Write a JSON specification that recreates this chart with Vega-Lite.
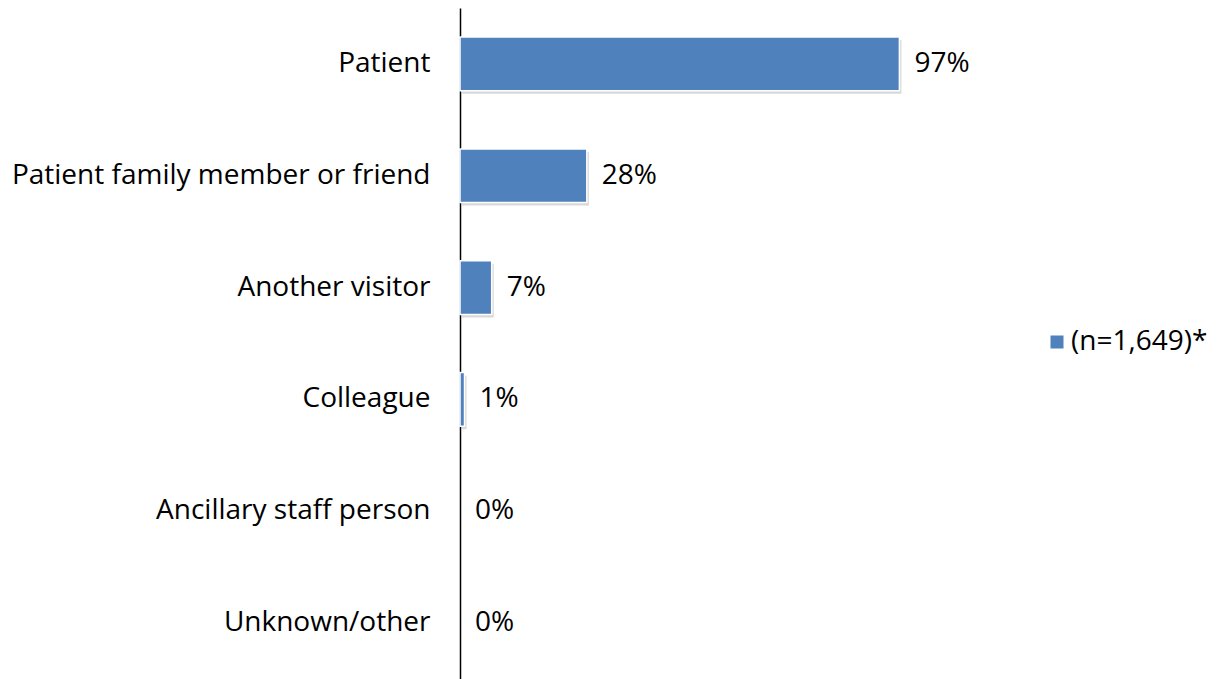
{
  "$schema": "https://vega.github.io/schema/vega-lite/v6.json",
  "autosize": "none",
  "width": 453,
  "height": 671,
  "padding": {"left": 460, "top": 8, "right": 308, "bottom": 0},
  "background": "white",
  "config": {
    "font": "Open Sans",
    "view": {"stroke": null}
  },
  "data": {
    "values": [
      {"category": "Patient", "value": 0.97, "series": "(n=1,649)*"},
      {"category": "Patient family member or friend", "value": 0.28, "series": "(n=1,649)*"},
      {"category": "Another visitor", "value": 0.07, "series": "(n=1,649)*"},
      {"category": "Colleague", "value": 0.01, "series": "(n=1,649)*"},
      {"category": "Ancillary staff person", "value": 0.0, "series": "(n=1,649)*"},
      {"category": "Unknown/other", "value": 0.0, "series": "(n=1,649)*"}
    ]
  },
  "encoding": {
    "y": {
      "field": "category", "type": "nominal", "sort": null, "title": null,
      "scale": {"paddingInner": 0.52, "paddingOuter": 0.26},
      "axis": {
        "domainColor": "black", "domainWidth": 1.5, "ticks": false,
        "labelFontSize": 28, "labelColor": "black", "labelPadding": 30,
        "labelFont": "Open Sans", "labelLimit": 500
      }
    },
    "x": {
      "field": "value", "type": "quantitative", "title": null,
      "scale": {"domain": [0, 1]},
      "axis": null
    }
  },
  "layer": [
    {
      "transform": [{"filter": "datum.value > 0"}],
      "mark": {"type": "bar", "color": "#c8c8c8", "opacity": 0.7, "xOffset": 2, "yOffset": 3}
    },
    {
      "transform": [{"filter": "datum.value > 0"}],
      "mark": {"type": "bar", "stroke": "white", "strokeWidth": 1.5},
      "encoding": {
        "color": {
          "field": "series", "type": "nominal",
          "scale": {"range": ["#4F81BD"]},
          "legend": {
            "title": null, "orient": "none", "legendX": 583, "legendY": 320,
            "symbolType": "square", "symbolSize": 169, "labelFontSize": 28,
            "labelColor": "black", "labelFont": "Open Sans", "symbolStrokeWidth": 0,
            "labelOffset": 0
          }
        }
      }
    },
    {
      "mark": {"type": "text", "align": "left", "baseline": "middle", "dx": 15, "fontSize": 28, "color": "black", "font": "Open Sans"},
      "encoding": {
        "text": {"field": "value", "type": "quantitative", "format": ".0%"}
      }
    }
  ]
}
